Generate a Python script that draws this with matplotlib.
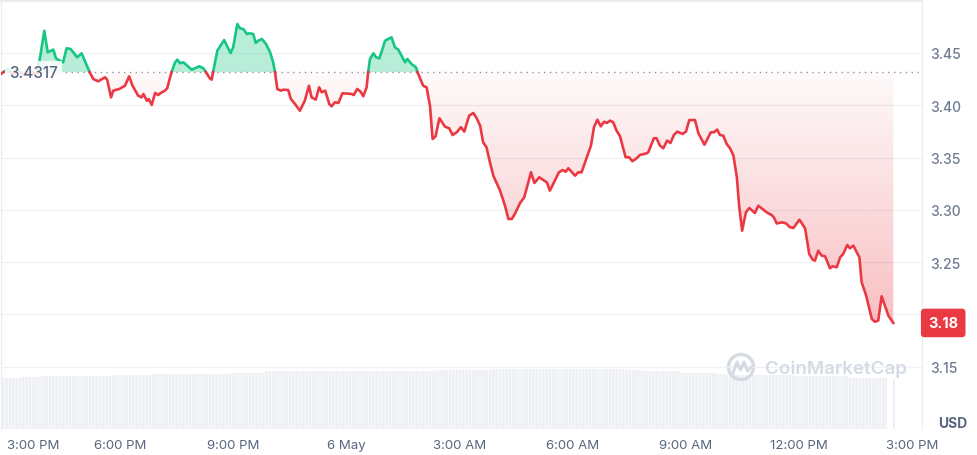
import numpy as np
import matplotlib.pyplot as plt
from matplotlib.path import Path
from matplotlib.patches import Ellipse

plt.rcParams['font.family'] = ['Inter', 'DejaVu Sans']
plt.rcParams['hatch.color'] = 'white'
plt.rcParams['hatch.linewidth'] = 0.45

# hours after 3:00 PM (5 May) and price in USD
hours = [-0.16, 0.03, 0.16, 0.29, 0.45, 0.61, 0.74, 0.80, 0.88, 0.99,
         1.08, 1.23, 1.30, 1.45, 1.49, 1.58, 1.69, 1.86, 1.98, 2.18,
         2.29, 2.42, 2.60, 2.66, 2.76, 2.82, 2.98, 3.13, 3.24, 3.33,
         3.48, 3.57, 3.62, 3.71, 3.76, 3.84, 3.93, 4.01, 4.08, 4.19,
         4.25, 4.32, 4.37, 4.46, 4.52, 4.59, 4.68, 4.90, 5.10, 5.21,
         5.28, 5.38, 5.43, 5.47, 5.58, 5.76, 5.93, 6.00, 6.11, 6.18,
         6.27, 6.36, 6.43, 6.53, 6.60, 6.67, 6.76, 6.87, 6.98, 7.06,
         7.11, 7.17, 7.26, 7.33, 7.46, 7.53, 7.64, 7.77, 7.90, 8.01,
         8.08, 8.19, 8.28, 8.35, 8.44, 8.55, 8.61, 8.70, 8.79, 8.90,
         9.14, 9.20, 9.29, 9.38, 9.45, 9.54, 9.58, 9.63, 9.72, 9.79,
         9.88, 10.03, 10.20, 10.29, 10.38, 10.56, 10.62, 10.73, 10.85, 10.89,
         11.04, 11.13, 11.22, 11.29, 11.37, 11.47, 11.62, 11.73, 11.82, 11.93,
         12.04, 12.13, 12.26, 12.37, 12.46, 12.55, 12.63, 12.72, 12.81, 12.90,
         13.08, 13.21, 13.30, 13.39, 13.47, 13.61, 13.72, 13.90, 13.99, 14.12,
         14.25, 14.32, 14.40, 14.51, 14.64, 14.74, 14.82, 14.89, 15.07, 15.15,
         15.24, 15.38, 15.49, 15.57, 15.66, 15.75, 15.84, 15.91, 16.00, 16.08,
         16.17, 16.26, 16.41, 16.50, 16.59, 16.70, 16.79, 16.97, 17.01, 17.16,
         17.23, 17.32, 17.41, 17.51, 17.60, 17.69, 17.78, 17.92, 18.01, 18.10,
         18.25, 18.34, 18.50, 18.67, 18.75, 18.84, 18.91, 19.00, 19.09, 19.18,
         19.27, 19.36, 19.42, 19.50, 19.60, 19.69, 19.84, 19.93, 20.06, 20.15,
         20.28, 20.34, 20.42, 20.55, 20.66, 20.77, 20.86, 21.02, 21.17, 21.28,
         21.37, 21.43, 21.52, 21.61, 21.70, 21.83, 21.90, 22.01, 22.10, 22.18,
         22.29, 22.36, 22.45, 22.61, 22.67, 22.79, 22.94, 23.02, 23.11, 23.20,
         23.38, 23.51]
price = [3.4299, 3.4347, 3.4290, 3.4337, 3.4290, 3.4337, 3.4299, 3.4318, 3.4462, 3.4713,
         3.4507, 3.4532, 3.4449, 3.4417, 3.4411, 3.4545, 3.4538, 3.4459, 3.4497, 3.4325,
         3.4251, 3.4229, 3.4268, 3.4242, 3.4076, 3.4140, 3.4156, 3.4187, 3.4277, 3.4187,
         3.4092, 3.4076, 3.4108, 3.4044, 3.4060, 3.4003, 3.4118, 3.4098, 3.4118, 3.4140,
         3.4163, 3.4258, 3.4321, 3.4411, 3.4436, 3.4402, 3.4411, 3.4340, 3.4373, 3.4354,
         3.4315, 3.4258, 3.4245, 3.4321, 3.4522, 3.4624, 3.4500, 3.4554, 3.4777, 3.4736,
         3.4729, 3.4682, 3.4688, 3.4682, 3.4596, 3.4618, 3.4634, 3.4586, 3.4507, 3.4411,
         3.4315, 3.4156, 3.4140, 3.4149, 3.4146, 3.4060, 3.4012, 3.3948, 3.4044, 3.4187,
         3.4076, 3.4054, 3.4172, 3.4124, 3.4140, 3.4012, 3.3990, 3.4029, 3.4022, 3.4115,
         3.4108, 3.4098, 3.4156, 3.4130, 3.4086, 3.4172, 3.4315, 3.4443, 3.4497, 3.4459,
         3.4449, 3.4618, 3.4650, 3.4554, 3.4532, 3.4411, 3.4443, 3.4395, 3.4363, 3.4315,
         3.4187, 3.4172, 3.3996, 3.3678, 3.3704, 3.3876, 3.3795, 3.3780, 3.3716, 3.3742,
         3.3790, 3.3748, 3.3901, 3.3926, 3.3876, 3.3805, 3.3646, 3.3598, 3.3455, 3.3327,
         3.3184, 3.3040, 3.2913, 3.2913, 3.2961, 3.3066, 3.3120, 3.3359, 3.3257, 3.3312,
         3.3279, 3.3264, 3.3184, 3.3264, 3.3359, 3.3381, 3.3365, 3.3398, 3.3327, 3.3359,
         3.3359, 3.3503, 3.3614, 3.3790, 3.3862, 3.3799, 3.3843, 3.3831, 3.3853, 3.3837,
         3.3757, 3.3704, 3.3503, 3.3503, 3.3465, 3.3493, 3.3525, 3.3541, 3.3551, 3.3685,
         3.3685, 3.3614, 3.3589, 3.3662, 3.3640, 3.3716, 3.3748, 3.3726, 3.3748, 3.3859,
         3.3859, 3.3732, 3.3623, 3.3742, 3.3742, 3.3767, 3.3716, 3.3709, 3.3630, 3.3589,
         3.3518, 3.3312, 3.3040, 3.2801, 3.2977, 3.3018, 3.2970, 3.3040, 3.3002, 3.2977,
         3.2951, 3.2929, 3.2870, 3.2881, 3.2872, 3.2834, 3.2827, 3.2906, 3.2824, 3.2578,
         3.2524, 3.2514, 3.2610, 3.2562, 3.2556, 3.2442, 3.2461, 3.2451, 3.2547, 3.2578,
         3.2664, 3.2633, 3.2658, 3.2547, 3.2308, 3.2180, 3.1957, 3.1931, 3.1941, 3.2174,
         3.1989, 3.1919]
open_price = 3.4317
last_label = '3.18'

# half-hourly 24h volume (millions USD)
volume = [102, 104, 107, 107, 107, 107, 109, 109, 111, 111,
          111, 111, 113, 113, 117, 117, 117, 117, 117, 117,
          117, 117, 117, 119, 119, 119, 120, 120, 120, 120,
          120, 120, 120, 119, 117, 117, 113, 113, 111, 108,
          108, 108, 107, 107, 107, 103, 102]
last_volume = 100
last_volume_hour = 23.5

tick_hours = [0, 3, 6, 9, 12, 15, 18, 21, 24]
tick_labels = ['3:00 PM', '6:00 PM', '9:00 PM', '6 May', '3:00 AM',
               '6:00 AM', '9:00 AM', '12:00 PM', '3:00 PM']
y_ticks = [3.15, 3.20, 3.25, 3.30, 3.35, 3.40, 3.45]

green = '#16c784'
red = '#ea3943'
grey = '#58667e'

fig = plt.figure(figsize=(9.78, 4.56), dpi=100)
ax = fig.add_axes([0.001, 0.057, 0.9417, 0.9386])
ax2 = ax.twinx()
ax.set_zorder(2)
ax.patch.set_visible(False)

# volume
vh = np.array(hours[0]) + 0.5 * np.arange(len(volume))
ax2.bar(vh, volume, width=0.5, align='edge', color='#eef0f4', lw=0, hatch='|||||')
ax2.bar(last_volume_hour, last_volume, width=0.06, align='edge', color='#eef0f4', lw=0)
ax2.set_ylim(0, 860)
ax2.set_yticks([])
for s in ax2.spines.values():
    s.set_visible(False)

# split line at the open price
t = np.array(hours)
p = np.array(price)
tt, pp = [t[0]], [p[0]]
for i in range(1, len(t)):
    a, b = p[i - 1] - open_price, p[i] - open_price
    if a * b < 0:
        tt.append(t[i - 1] + (t[i] - t[i - 1]) * a / (a - b))
        pp.append(open_price)
    tt.append(t[i])
    pp.append(p[i])
tt, pp = np.array(tt), np.array(pp)

ax.fill_between(tt, pp, open_price, where=pp >= open_price, interpolate=True,
                color=green, alpha=0.3, lw=0, zorder=2)
poly = ax.fill_between(tt, pp, open_price, where=pp <= open_price, interpolate=True,
                       color='none', lw=0)
grad = np.zeros((256, 1, 4))
grad[:, 0, :3] = [0xea / 255, 0x39 / 255, 0x43 / 255]
grad[:, 0, 3] = np.linspace(0.03, 0.32, 256)
im = ax.imshow(grad, extent=[tt[0], tt[-1], pp.min(), open_price], origin='upper',
               aspect='auto', zorder=2)
im.set_clip_path(Path.make_compound_path(*poly.get_paths()), transform=ax.transData)

ax.plot(tt, np.where(pp >= open_price, pp, np.nan), color=green, lw=1.9, zorder=4,
        solid_joinstyle='round')
ax.plot(tt, np.where(pp <= open_price, pp, np.nan), color=red, lw=1.9, zorder=4,
        solid_joinstyle='round')
ax.axhline(open_price, color='#8a94a6', lw=1.0, ls=(0, (1, 3.2)), zorder=3)

ax.text(0.06, open_price, '3.4317', color=grey, fontsize=11, fontweight='medium',
        va='center', ha='left', zorder=6,
        bbox=dict(boxstyle='square,pad=0.25', fc='white', ec='none', alpha=0.85))

ax.set_xlim(-0.159, 24.27)
ax.set_ylim(3.0905, 3.4997)
ax.set_yticks(y_ticks)
ax.set_yticklabels([f'{v:.2f}' for v in y_ticks])
ax.yaxis.tick_right()
ax.grid(axis='y', color='#eff1f4', lw=0.9)
ax.set_xticks(tick_hours)
ax.set_xticklabels(tick_labels)
ax.get_xticklabels()[0].set_ha('left')
ax.tick_params(axis='x', length=0, pad=7, labelsize=9.5, labelcolor=grey)
ax.tick_params(axis='y', length=0, pad=6, labelsize=10, labelcolor='#6f7b91')
for lbl in ax.get_yticklabels():
    lbl.set_fontweight('medium')
for name in ['top', 'right', 'left']:
    ax.spines[name].set_color('#e9ecf0')
ax.spines['top'].set_linewidth(1.5)
ax.spines['bottom'].set_visible(False)

ax.annotate(last_label, xy=(1, price[-1]), xycoords=('axes fraction', 'data'),
            xytext=(4.5, 0), textcoords='offset points', ha='left', va='center',
            color='white', fontsize=10.5, fontweight='bold', zorder=7,
            annotation_clip=False,
            bbox=dict(boxstyle='round,pad=0.5,rounding_size=0.25', fc=red, ec='none'))

fig.text(953 / 978, 1 - 424 / 456, 'USD', ha='center', va='center', color=grey,
         fontsize=10, fontweight='bold')

# watermark
wm = '#d5dbe3'
fig.patches.append(Ellipse((741 / 978, 1 - 368 / 456), 25 / 978, 25 / 456,
                           transform=fig.transFigure, fill=False, ec=wm, lw=2.4))
fig.lines.append(plt.Line2D(np.array([733, 737, 740.5, 744, 747.5, 751]) / 978,
                            1 - np.array([374, 363, 371, 363, 372, 368]) / 456,
                            transform=fig.transFigure, color=wm, lw=2.2,
                            solid_joinstyle='round', solid_capstyle='round'))
fig.text(836 / 978, 1 - 369 / 456, 'CoinMarketCap', ha='center', va='center',
         color=wm, fontsize=13.5, fontweight='semibold')

fig.savefig('out.png', dpi=100)
